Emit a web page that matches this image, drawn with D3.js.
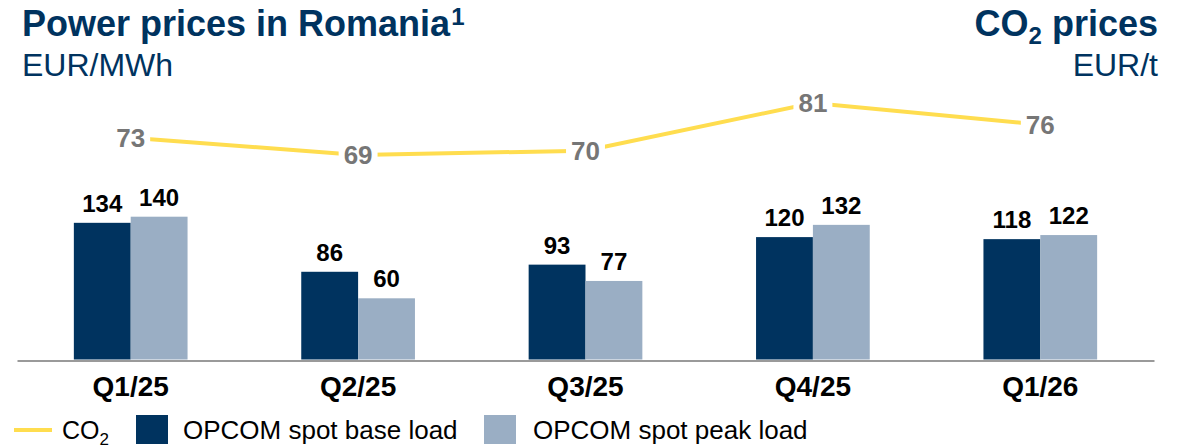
<!DOCTYPE html>
<html lang="en">
<head>
<meta charset="utf-8">
<title>Power prices in Romania</title>
<script src="https://cdn.jsdelivr.net/npm/d3@7"></script>
<style>
  body { margin: 0; background: #fff; }
  svg { font-family: "Liberation Sans", Arial, sans-serif; display: block; }
</style>
</head>
<body>
<div id="chart"></div>
<script>
// data
const quarters = ["Q1/25", "Q2/25", "Q3/25", "Q4/25", "Q1/26"];
const baseLoad = [134, 86, 93, 120, 118];
const peakLoad = [140, 60, 77, 132, 122];
const co2 = [73, 69, 70, 81, 76];

const navy = "#00335F";
const light = "#9AAEC4";
const yellow = "#FFDD4F";

const width = 1189, height = 448;

const svg = d3.select("#chart").append("svg")
  .attr("width", width)
  .attr("height", height);

// scales
const x = d3.scaleBand().domain(quarters).range([17, 1154])
  .paddingInner(0.5).paddingOuter(0.25);
const xSub = d3.scaleBand().domain(["base", "peak"]).range([0, x.bandwidth()]);
const yBar = d3.scaleLinear().domain([0, 150]).range([359.5, 206.5]);
const yLine = d3.scaleLinear().domain([60, 90]).range([194, 64]);

// titles
const t1 = svg.append("text").attr("x", 22).attr("y", 36)
  .attr("fill", navy).attr("font-weight", "bold").attr("font-size", 36);
t1.append("tspan").text("Power prices in Romania");
t1.append("tspan").attr("font-size", 24).attr("dy", -11).attr("dx", 1).text("1");
svg.append("text").attr("x", 22).attr("y", 76)
  .attr("fill", navy).attr("font-size", 32).text("EUR/MWh");

const t2 = svg.append("text").attr("x", 1158).attr("y", 36).attr("text-anchor", "end")
  .attr("fill", navy).attr("font-weight", "bold").attr("font-size", 36);
t2.append("tspan").text("CO");
t2.append("tspan").attr("font-size", 24).attr("dy", 8).text("2");
t2.append("tspan").attr("dy", -8).text(" prices");
svg.append("text").attr("x", 1158).attr("y", 76).attr("text-anchor", "end")
  .attr("fill", navy).attr("font-size", 32).text("EUR/t");

// bars
const groups = svg.append("g").selectAll("g")
  .data(quarters)
  .join("g")
  .attr("transform", d => `translate(${x(d)},0)`);

groups.append("rect")
  .attr("x", xSub("base")).attr("width", xSub.bandwidth())
  .attr("y", (d, i) => yBar(baseLoad[i]))
  .attr("height", (d, i) => yBar(0) - yBar(baseLoad[i]))
  .attr("fill", navy);
groups.append("rect")
  .attr("x", xSub("peak")).attr("width", xSub.bandwidth())
  .attr("y", (d, i) => yBar(peakLoad[i]))
  .attr("height", (d, i) => yBar(0) - yBar(peakLoad[i]))
  .attr("fill", light);

groups.append("text")
  .attr("x", xSub("base") + xSub.bandwidth() / 2)
  .attr("y", (d, i) => yBar(baseLoad[i]) - 11)
  .attr("text-anchor", "middle").attr("font-weight", "bold").attr("font-size", 24)
  .text((d, i) => baseLoad[i]);
groups.append("text")
  .attr("x", xSub("peak") + xSub.bandwidth() / 2)
  .attr("y", (d, i) => yBar(peakLoad[i]) - 11)
  .attr("text-anchor", "middle").attr("font-weight", "bold").attr("font-size", 24)
  .text((d, i) => peakLoad[i]);

// x axis
const xAxis = svg.append("g")
  .attr("transform", `translate(0,${yBar(0) + 1})`)
  .call(d3.axisBottom(x).tickSize(0).tickPadding(16));
xAxis.select(".domain").attr("stroke", "#9a9a9a").attr("stroke-width", 2);
xAxis.selectAll("text")
  .attr("font-family", "Liberation Sans, Arial, sans-serif")
  .attr("font-size", 28).attr("font-weight", "bold").attr("fill", "#000");

// CO2 line
const line = d3.line()
  .x((d, i) => x(quarters[i]) + x.bandwidth() / 2)
  .y(d => yLine(d));
svg.append("path").datum(co2)
  .attr("d", line)
  .attr("fill", "none").attr("stroke", yellow).attr("stroke-width", 4);

const lbl = svg.append("g").selectAll("g").data(co2).join("g")
  .attr("transform", (d, i) => `translate(${x(quarters[i]) + x.bandwidth() / 2},${yLine(d)})`);
const lblText = lbl.append("text")
  .attr("text-anchor", "middle").attr("dy", "0.35em")
  .attr("font-weight", "bold").attr("font-size", 26).attr("fill", "#767676")
  .text(d => d);
lblText.each(function () {
  const b = this.getBBox();
  d3.select(this.parentNode).insert("rect", "text")
    .attr("x", b.x - 5).attr("y", b.y).attr("width", b.width + 10).attr("height", b.height)
    .attr("fill", "#fff");
});

// legend
const lg = svg.append("g").attr("transform", "translate(0,430)");
lg.append("line").attr("x1", 14).attr("x2", 52).attr("y1", 0).attr("y2", 0)
  .attr("stroke", yellow).attr("stroke-width", 4);
const lt = lg.append("text").attr("x", 62).attr("y", 9).attr("font-size", 25).attr("fill", "#000");
lt.append("tspan").text("CO");
lt.append("tspan").attr("font-size", 17).attr("dy", 6).text("2");

lg.append("rect").attr("x", 136).attr("y", -15).attr("width", 32).attr("height", 29).attr("fill", navy);
lg.append("text").attr("x", 183).attr("y", 9).attr("font-size", 26).attr("fill", "#000")
  .text("OPCOM spot base load");
lg.append("rect").attr("x", 484).attr("y", -15).attr("width", 32).attr("height", 29).attr("fill", light);
lg.append("text").attr("x", 533).attr("y", 9).attr("font-size", 26).attr("fill", "#000")
  .text("OPCOM spot peak load");
</script>
</body>
</html>
